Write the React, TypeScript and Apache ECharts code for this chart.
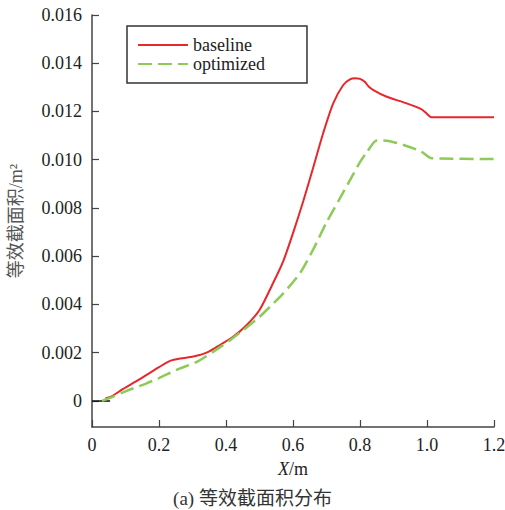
import React, { useEffect, useRef } from "react";
import * as echarts from "echarts";

const xTicks = [0, 0.2, 0.4, 0.6, 0.8, 1.0, 1.2];
const yTicks = [0, 0.002, 0.004, 0.006, 0.008, 0.01, 0.012, 0.014, 0.016];

const baselineX = [0.04, 0.06, 0.093, 0.13, 0.163, 0.2, 0.233, 0.263, 0.303, 0.342, 0.382, 0.422, 0.462, 0.5, 0.541, 0.571, 0.601, 0.631, 0.661, 0.69, 0.72, 0.75, 0.77, 0.785, 0.8, 0.815, 0.825, 0.84, 0.88, 0.93, 0.984, 1.0, 1.01, 1.02, 1.2];
const baselineY = [0.0001, 0.0002, 0.0005, 0.0008, 0.00108, 0.0014, 0.00166, 0.00176, 0.00184, 0.002, 0.00232, 0.00267, 0.00315, 0.00377, 0.0049, 0.0058, 0.007, 0.0083, 0.00971, 0.0111, 0.01234, 0.0131, 0.01333, 0.01338, 0.01335, 0.01322, 0.01305, 0.01289, 0.01261, 0.01238, 0.01209, 0.0119, 0.01178, 0.01176, 0.01176];

const optimizedX = [0.03, 0.063, 0.1, 0.163, 0.2, 0.263, 0.31, 0.362, 0.41, 0.452, 0.5, 0.531, 0.571, 0.621, 0.661, 0.7, 0.74, 0.78, 0.8, 0.82, 0.85, 0.88, 0.93, 0.984, 1.014, 1.2];
const optimizedY = [0.0, 0.00018, 0.0004, 0.00073, 0.00095, 0.00135, 0.0016, 0.00204, 0.0025, 0.00294, 0.00349, 0.0039, 0.00446, 0.0053, 0.0063, 0.0074, 0.0084, 0.0094, 0.0099, 0.0103, 0.0108, 0.01079, 0.01061, 0.01033, 0.01006, 0.01003];

const stubX = [0, 0.054];
const stubY = [0, 0];

const seriesNames = ["baseline", "optimized"];
const yAxisName = "等效截面积/m²";
const caption = "(a) 等效截面积分布";

const serif = "'Liberation Serif', 'Noto Sans CJK SC', serif";

export default function App() {
  const ref = useRef<HTMLDivElement>(null);
  useEffect(() => {
    if (!ref.current) return;
    const chart = echarts.init(ref.current, null, { renderer: "svg" });
    const zip = (xs: number[], ys: number[]) => xs.map((x, i) => [x, ys[i]]);
    const axisColor = "#444";
    chart.setOption({
      animation: false,
      backgroundColor: "#fff",
      grid: { left: 92, right: 11, top: 15, bottom: 83, containLabel: false, outerBoundsMode: "none" },
      legend: {
        data: seriesNames,
        orient: "vertical",
        left: 127,
        top: 26,
        width: 150,
        padding: [10, 42, 10, 10],
        itemGap: 1,
        itemWidth: 50,
        itemHeight: 14,
        borderColor: "#333",
        borderWidth: 1.5,
        itemStyle: { opacity: 0 },
        textStyle: { fontFamily: serif, fontSize: 18, color: "#222" },
      },
      xAxis: {
        type: "value",
        min: 0,
        max: 1.2,
        interval: 0.2,
        name: "{i|X}/m",
        nameLocation: "middle",
        nameGap: 33,
        nameTextStyle: {
          fontFamily: serif,
          fontSize: 18,
          color: "#222",
          rich: { i: { fontStyle: "italic", fontFamily: serif, fontSize: 18, color: "#222" } },
        },
        axisLine: { onZero: false, lineStyle: { color: axisColor, width: 1.5 } },
        axisTick: { inside: true, length: 7, lineStyle: { color: axisColor, width: 1.2 } },
        axisLabel: {
          margin: 9,
          fontFamily: serif,
          fontSize: 18,
          color: "#222",
          formatter: (v: number) => (v === 0 ? "0" : v.toFixed(1)),
        },
        splitLine: { show: false },
      },
      yAxis: {
        type: "value",
        min: -0.00108,
        max: 0.016,
        name: yAxisName,
        nameLocation: "middle",
        nameGap: 67,
        nameTextStyle: { fontFamily: serif, fontSize: 18, color: "#555" },
        axisLine: { onZero: false, lineStyle: { color: axisColor, width: 1.5 } },
        axisTick: { inside: true, length: 7, customValues: yTicks, lineStyle: { color: axisColor, width: 1.2 } },
        axisLabel: {
          margin: 10,
          fontFamily: serif,
          fontSize: 18,
          color: "#222",
          customValues: yTicks,
          formatter: (v: number) => (Math.abs(v) < 1e-9 ? "0" : v.toFixed(3)),
        },
        splitLine: { show: false },
      },
      graphic: [
        {
          type: "text",
          left: "center",
          top: 489,
          style: { text: caption, font: "19px 'Liberation Serif', 'Noto Sans CJK SC', serif", fill: "#333" },
        },
      ],
      series: [
        {
          name: "baseline",
          type: "line",
          data: zip(baselineX, baselineY),
          showSymbol: false,
          symbol: "none",
          smooth: 0.25,
          lineStyle: { color: "#e8272b", width: 2 },
          itemStyle: { color: "#e8272b" },
        },
        {
          name: "optimized",
          type: "line",
          data: zip(optimizedX, optimizedY),
          showSymbol: false,
          symbol: "none",
          smooth: 0.25,
          lineStyle: { color: "#8ccb58", width: 2.5, type: [14, 6] },
          itemStyle: { color: "#8ccb58" },
        },
        {
          name: "stub",
          type: "line",
          data: zip(stubX, stubY),
          showSymbol: false,
          symbol: "none",
          lineStyle: { color: "#111", width: 1.5 },
          z: 1,
        },
      ],
    });
    return () => chart.dispose();
  }, []);
  return <div ref={ref} style={{ position: "absolute", left: 0, top: 0, width: 505, height: 510 }} />;
}
